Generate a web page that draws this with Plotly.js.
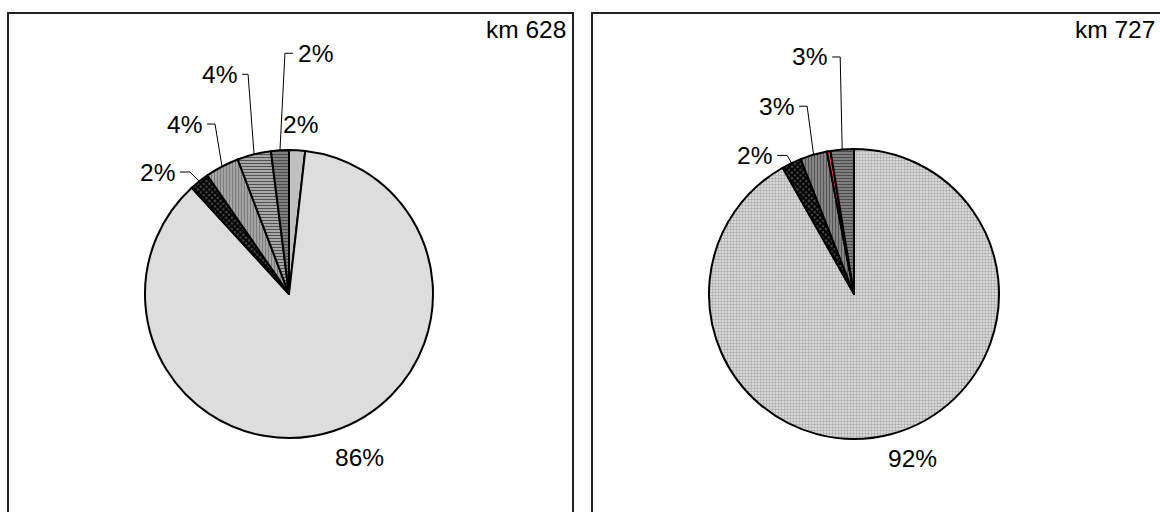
<!DOCTYPE html>
<html>
<head>
<meta charset="utf-8">
<script src="https://cdn.plot.ly/plotly-3.0.1.min.js"></script>
<style>
  html, body { margin: 0; padding: 0; background: #fff; }
  #chart { width: 1160px; height: 512px; }
</style>
</head>
<body>
<div id="chart"></div>
<script>
// Shares per category, listed clockwise from 12 o'clock.
const km628Categories = ['Kat. A', 'Kat. B', 'Kat. C', 'Kat. D', 'Kat. E', 'Kat. F'];
const km628Values     = [1.8, 86.4, 2.2, 3.8, 3.8, 2.0];

const km727Categories = ['Kat. B', 'Kat. C', 'Kat. D', 'Kat. G', 'Kat. F'];
const km727Values     = [92.0, 2.2, 3.0, 0.4, 2.6];

const panelTitles = ['km 628', 'km 727'];

const W = 1160, H = 512;
const px = x => x / W;
const py = y => 1 - y / H;

// Fill style for every category.
const fills = {
  'Kat. A': { shape: '',  fg: '#c0c0c0', bg: '#c0c0c0', size: 4, sol: 0.3 },
  'Kat. B': { shape: '|', fg: '#c6c6c6', bg: '#f4f4f4', size: 2, sol: 0.5 },
  'Kat. C': { shape: 'x', fg: '#000000', bg: '#4a4a4a', size: 4, sol: 0.7 },
  'Kat. D': { shape: '|', fg: '#7c7c7c', bg: '#a8a8a8', size: 3, sol: 0.4 },
  'Kat. E': { shape: '-', fg: '#505050', bg: '#c4c4c4', size: 3, sol: 0.5 },
  'Kat. F': { shape: '-', fg: '#4a4a4a', bg: '#858585', size: 3, sol: 0.4 },
  'Kat. G': { shape: '',  fg: '#ff3030', bg: '#ff3030', size: 4, sol: 0.3 }
};
const fillsRight = Object.assign({}, fills, {
  'Kat. B': { shape: '.', fg: '#ababab', bg: '#e6e6e6', size: 3, sol: 0.5 },
  'Kat. D': { shape: '|', fg: '#555555', bg: '#8a8a8a', size: 3, sol: 0.4 }
});

// Panel geometry and label placement (offsets from the slice's outer edge midpoint).
const panels = [
  {
    cats: km628Categories, vals: km628Values, fill: fills,
    cx: 289, cy: 294, r: 144,
    frame: [8, 13, 573, 540], titleX: 568,
    labels: {
      'Kat. A': { near: true, dx: 3, dy: -26 },
      'Kat. B': { near: true, dx: 26, dy: 27 },
      'Kat. C': { dx: -19.4, dy: -9.3, dir: 1, seg: 10 },
      'Kat. D': { dx: -15, dy: -42.5, dir: 1, seg: 8 },
      'Kat. E': { dx: -12, dy: -80, dir: 1, seg: 6 },
      'Kat. F': { dx: 13, dy: -97, dir: -1, seg: 8 }
    }
  },
  {
    cats: km727Categories, vals: km727Values, fill: fillsRight,
    cx: 854, cy: 294, r: 145,
    frame: [592, 13, 1164, 540], titleX: 1157,
    labels: {
      'Kat. B': { near: true, dx: 22, dy: 24 },
      'Kat. C': { dx: -14.4, dy: -7.7, dir: 1, seg: 10 },
      'Kat. D': { dx: -14.5, dy: -48.5, dir: 1, seg: 8 },
      'Kat. F': { dx: -10, dy: -92.5, dir: 1, seg: 8 }
    }
  }
];

const traces = [];
const shapes = [];
const annotations = [];
const labelFont = { family: 'Liberation Sans, Arial, sans-serif', size: 24.5, color: '#000' };

panels.forEach((p, i) => {
  const f = p.cats.map(c => p.fill[c]);
  traces.push({
    type: 'pie',
    labels: p.cats,
    values: p.vals,
    sort: false,
    direction: 'clockwise',
    rotation: 0,
    textinfo: 'none',
    hoverinfo: 'skip',
    showlegend: false,
    domain: { x: [px(p.cx - p.r), px(p.cx + p.r)], y: [py(p.cy + p.r), py(p.cy - p.r)] },
    marker: {
      colors: f.map(s => s.bg),
      line: { color: '#000', width: 2 },
      pattern: {
        shape: f.map(s => s.shape),
        fgcolor: f.map(s => s.fg),
        bgcolor: f.map(s => s.bg),
        size: f.map(s => s.size),
        solidity: f.map(s => s.sol),
        fillmode: 'replace'
      }
    }
  });

  // frame of the panel
  shapes.push({
    type: 'rect', xref: 'paper', yref: 'paper',
    x0: px(p.frame[0]), x1: px(p.frame[2]), y0: py(p.frame[3]), y1: py(p.frame[1]),
    line: { color: '#222', width: 2 }, fillcolor: 'rgba(0,0,0,0)'
  });

  annotations.push({
    xref: 'paper', yref: 'paper', x: px(p.titleX), y: py(29),
    xanchor: 'right', yanchor: 'middle', showarrow: false,
    text: panelTitles[i], font: labelFont
  });

  // percentage labels, derived from the slice angles
  const total = p.vals.reduce((a, b) => a + b, 0);
  let acc = 0;
  p.cats.forEach((c, k) => {
    const v = p.vals[k];
    const mid = (acc + v / 2) / total * 2 * Math.PI;
    acc += v;
    const spec = p.labels[c];
    if (!spec) return;
    const ex = p.cx + p.r * Math.sin(mid);
    const ey = p.cy - p.r * Math.cos(mid);
    const text = Math.round(v / total * 100) + '%';
    const ax = ex + spec.dx, ay = ey + spec.dy;
    if (spec.near) {
      annotations.push({
        xref: 'paper', yref: 'paper', x: px(ax), y: py(ay),
        xanchor: 'center', yanchor: 'middle', showarrow: false,
        text: text, font: labelFont
      });
      return;
    }
    const bx = ax + spec.dir * spec.seg;
    shapes.push({
      type: 'path', xref: 'paper', yref: 'paper',
      path: `M ${px(ax)},${py(ay)} L ${px(bx)},${py(ay)} L ${px(ex)},${py(ey)}`,
      line: { color: '#000', width: 1 }
    });
    annotations.push({
      xref: 'paper', yref: 'paper',
      x: px(ax - spec.dir * 3), y: py(ay),
      xanchor: spec.dir > 0 ? 'right' : 'left', yanchor: 'middle', showarrow: false,
      text: text, font: labelFont
    });
  });
});

const layout = {
  width: W, height: H,
  margin: { l: 0, r: 0, t: 0, b: 0 },
  paper_bgcolor: '#fff',
  plot_bgcolor: '#fff',
  shapes: shapes,
  annotations: annotations
};

Plotly.newPlot('chart', traces, layout, { displayModeBar: false, staticPlot: true });
</script>
</body>
</html>
